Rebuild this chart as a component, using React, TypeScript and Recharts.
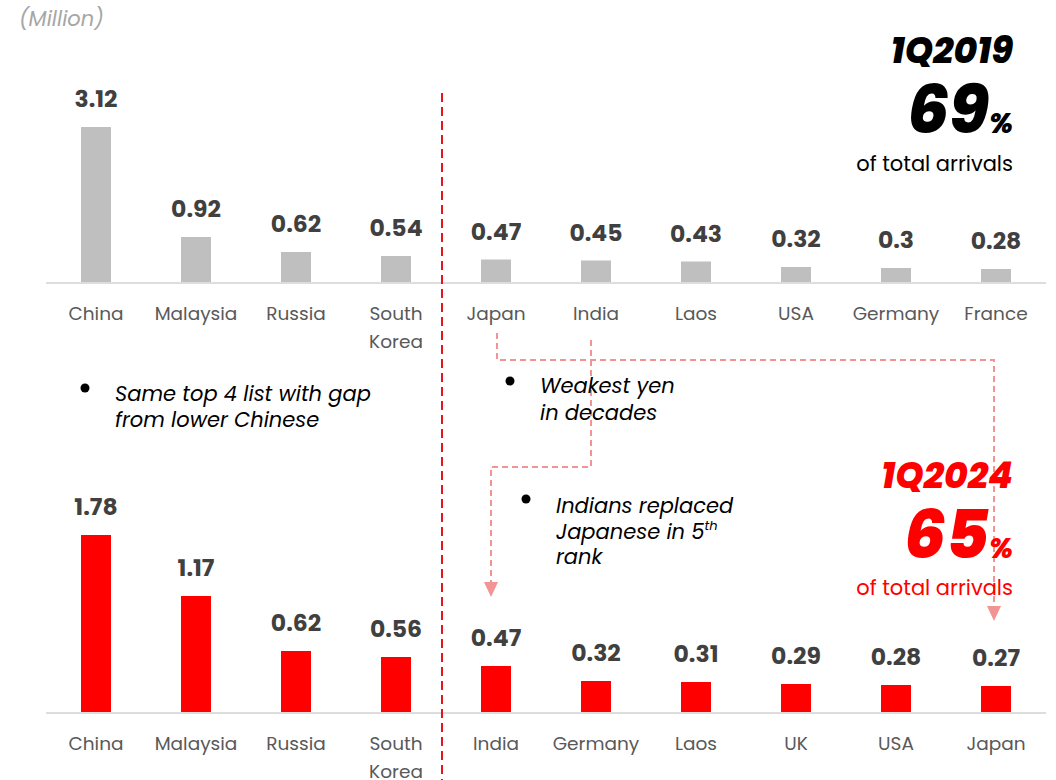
import React from 'react';
import { BarChart, Bar, XAxis, YAxis, LabelList } from 'recharts';

const FONT = "Poppins, 'Open Sans', sans-serif";

// arrivals in millions, top 10 source markets
const countries2019 = ['China', 'Malaysia', 'Russia', 'South Korea', 'Japan', 'India', 'Laos', 'USA', 'Germany', 'France'];
const arrivals2019 = [3.12, 0.92, 0.62, 0.54, 0.47, 0.45, 0.43, 0.32, 0.3, 0.28];

const countries2024 = ['China', 'Malaysia', 'Russia', 'South Korea', 'India', 'Germany', 'Laos', 'UK', 'USA', 'Japan'];
const arrivals2024 = [1.78, 1.17, 0.62, 0.56, 0.47, 0.32, 0.31, 0.29, 0.28, 0.27];

const rows2019 = countries2019.map((name, i) => ({ name, value: arrivals2019[i] }));
const rows2024 = countries2024.map((name, i) => ({ name, value: arrivals2024[i] }));

const PINK = '#f29494';

function CountryTick(props: any) {
  const { x, y, payload } = props;
  const words = String(payload.value).split(' ');
  return (
    <text x={x} y={y} textAnchor="middle" fill="#595959" fontSize={18.5} fontFamily={FONT}>
      {words.map((w, i) => (
        <tspan key={i} x={x} dy={i === 0 ? 37 : 28}>
          {w}
        </tspan>
      ))}
    </text>
  );
}

function ArrivalsBars({ data, color, max, height, top }: { data: any[]; color: string; max: number; height: number; top: number }) {
  return (
    <BarChart width={1056} height={height} data={data} margin={{ top, right: 10, bottom: 0, left: 46 }}>
      <XAxis
        dataKey="name"
        interval={0}
        height={height === 360 ? 77 : 67}
        tickLine={false}
        tickSize={0}
        tickMargin={0}
        axisLine={{ stroke: '#dddddd', strokeWidth: 2 }}
        tick={<CountryTick />}
      />
      <YAxis hide domain={[0, max]} />
      <Bar dataKey="value" fill={color} barSize={30} isAnimationActive={false}>
        <LabelList
          dataKey="value"
          position="top"
          offset={20}
          fill="#404040"
          fontSize={23.5}
          fontWeight={700}
          fontFamily={FONT}
        />
      </Bar>
    </BarChart>
  );
}

function Arrow({ points, tip }: { points: string; tip: [number, number] }) {
  const [tx, ty] = tip;
  return (
    <g>
      <polyline points={points} fill="none" stroke={PINK} strokeWidth={2} strokeDasharray="6 4" />
      <polygon points={`${tx - 7},${ty - 15} ${tx + 7},${ty - 15} ${tx},${ty}`} fill={PINK} />
    </g>
  );
}

export default function App() {
  return (
    <div style={{ position: 'absolute', left: 0, top: 0, width: 1056, height: 780, background: '#fff', fontFamily: FONT }}>
      <div style={{ position: 'absolute', left: 0, top: 0 }}>
        <ArrivalsBars data={rows2019} color="#bfbfbf" max={3.12} height={360} top={127} />
      </div>
      <div style={{ position: 'absolute', left: 0, top: 400 }}>
        <ArrivalsBars data={rows2024} color="#ff0000" max={1.78} height={380} top={135} />
      </div>

      <svg width={1056} height={780} style={{ position: 'absolute', left: 0, top: 0, pointerEvents: 'none' }} fontFamily={FONT}>
        <text x={19} y={26} fill="#a6a6a6" fontSize={21} fontStyle="italic">(Million)</text>

        {/* divider between top 4 and the rest */}
        <line x1={442} y1={93} x2={442} y2={780} stroke="#e8141b" strokeWidth={2} strokeDasharray="9 5" />

        <Arrow points="497,333 497,360 994,360 994,606" tip={[994, 621]} />
        <Arrow points="591,340 591,467 491,467 491,582" tip={[491, 597]} />

        <g fill="#000" textAnchor="end">
          <text x={1013} y={63} fontSize={36} fontWeight={800} fontStyle="italic">1Q2019</text>
          <text x={1013} y={133} fontWeight={800} fontStyle="italic">
            <tspan fontSize={66}>69</tspan>
            <tspan fontSize={28}>%</tspan>
          </text>
          <text x={1013} y={171} fontSize={21}>of total arrivals</text>
        </g>
        <g fill="#ff0000" textAnchor="end">
          <text x={1013} y={488} fontSize={36} fontWeight={800} fontStyle="italic">1Q2024</text>
          <text x={1013} y={558} fontWeight={800} fontStyle="italic">
            <tspan fontSize={66}>65</tspan>
            <tspan fontSize={28}>%</tspan>
          </text>
          <text x={1013} y={595} fontSize={21}>of total arrivals</text>
        </g>

        <g fill="#000" fontSize={21} fontStyle="italic">
          <circle cx={85} cy={388} r={4.5} />
          <text x={115} y={401}>Same top 4 list with gap</text>
          <text x={115} y={427}>from lower Chinese</text>

          <circle cx={510} cy={381} r={4.5} />
          <text x={540} y={393}>Weakest yen</text>
          <text x={540} y={420}>in decades</text>

          <circle cx={526} cy={499} r={4.5} />
          <text x={556} y={513}>Indians replaced</text>
          <text x={556} y={539}>
            Japanese in 5<tspan fontSize={13} dy={-9}>th</tspan>
          </text>
          <text x={556} y={564}>rank</text>
        </g>
      </svg>
    </div>
  );
}
